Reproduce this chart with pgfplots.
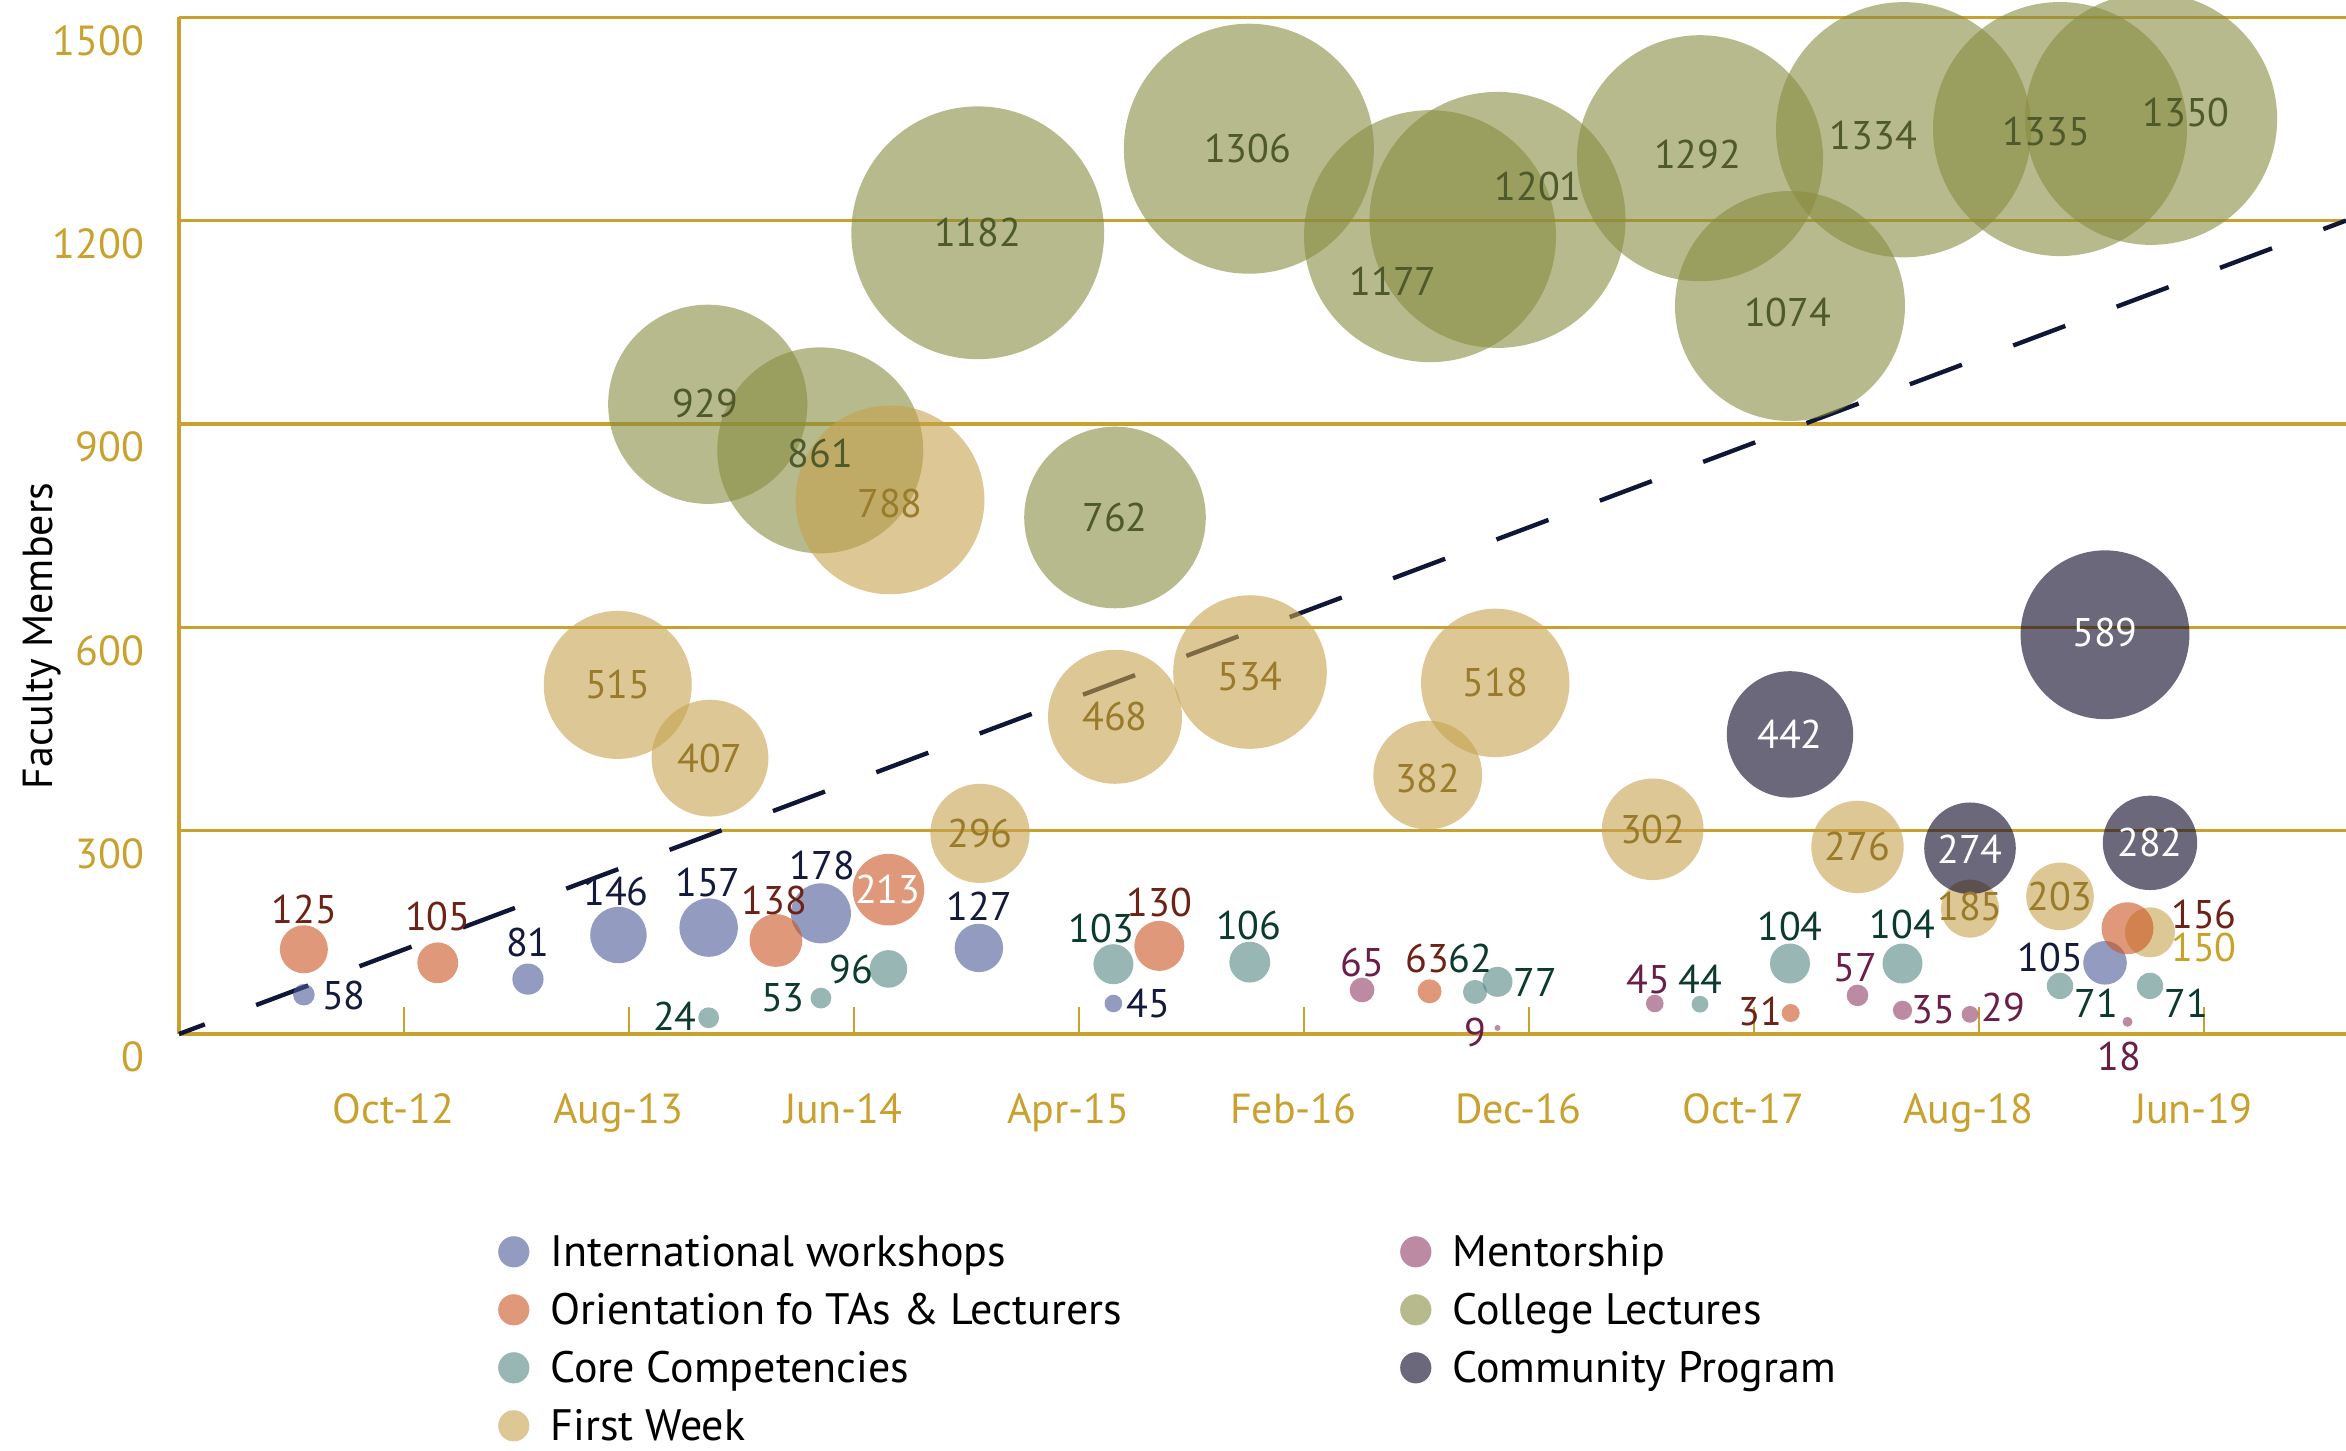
\documentclass[border=0pt]{standalone}
\usepackage{fontspec}
\setmainfont{PT Sans}
\usepackage{pgfplots}
\pgfplotsset{compat=1.18}
\definecolor{gold}{HTML}{C9A12E}
\definecolor{cIW}{HTML}{4B5A96}
\definecolor{cOR}{HTML}{CA5521}
\definecolor{cCC}{HTML}{528582}
\definecolor{cFW}{HTML}{C5A24E}
\definecolor{cME}{HTML}{8F3E66}
\definecolor{cCL}{HTML}{878C3F}
\definecolor{cCP}{HTML}{080323}
\definecolor{tIW}{HTML}{141A3C}
\definecolor{tOR}{HTML}{6E2216}
\definecolor{tCC}{HTML}{0C3A2F}
\definecolor{tFW}{HTML}{9A7B2C}
\definecolor{tFWb}{HTML}{C9A227}
\definecolor{tME}{HTML}{6A1E48}
\definecolor{tCL}{HTML}{4E5A2C}
\definecolor{trend}{HTML}{101636}
\newcommand\lblfont{\fontsize{10}{12}\selectfont}
\newcommand\tkfont{\fontsize{10.5}{12.6}\selectfont}
\newcommand\lgfont{\fontsize{11}{13.2}\selectfont}
\pgfplotsset{
  bubble/.style={scatter, only marks, mark=*, forget plot,
    scatter/use mapped color={draw=#1, draw opacity=0, fill=#1, fill opacity=0.6},
    visualization depends on={\thisrow{r} \as \bubr},
    scatter/@pre marker code/.append style={/tikz/mark size=\bubr pt}},
  lbl/.style={draw=none, mark=none, forget plot, nodes near coords,
    point meta=explicit symbolic, nodes near coords align={center},
    every node near coord/.append style={text=#1, font=\lblfont, inner sep=0pt}},
  leg/.style={legend image code/.code={\path[draw=none, draw opacity=0, fill=#1, fill opacity=0.6] (0pt,3.6pt) circle (3.9pt);}},
}
\begin{document}
\begin{tikzpicture}
\path[use as bounding box] (-44.75pt,-104pt) rectangle (541.75pt,258.5pt);
\begin{axis}[
  at={(0pt,0pt)}, anchor=south west,
  scale only axis, width=541.75pt, height=254.2pt,
  xmin=0, xmax=96.31, ymin=0, ymax=1500,
  clip=false,
  axis x line*=bottom, axis y line*=left,
  axis line style={draw=gold, line width=0.8pt, -},
  xtick={10,20,30,40,50,60,70,80,90},
  xticklabels={Oct-12,Aug-13,Jun-14,Apr-15,Feb-16,Dec-16,Oct-17,Aug-18,Jun-19},
  ytick={0,300,600,900,1200,1500},
  tick align=inside, major tick length=6.7pt,
  xtick style={draw=gold, line width=0.6pt},
  ytick style={draw=none},
  ymajorgrids, grid style={draw=gold, line width=0.8pt},
  /pgf/number format/assume math mode=true,
  /pgf/number format/1000 sep={},
  xticklabel style={anchor=base, inner sep=0pt, yshift=-22.3pt, xshift=-2.65pt, text=gold, font=\tkfont},
  yticklabel style={anchor=east, inner sep=0pt, xshift=-8.5pt, yshift=-5.8pt, text=gold, font=\tkfont},
  ylabel={Faculty Members},
  every axis y label/.style={at={(axis description cs:-0.0630,0.3914)}, rotate=90, anchor=center, font=\tkfont},
  legend columns=2,
  legend cell align=left,
  legend style={draw=none, fill=none, at={(axis description cs:0.14693,-0.19611)}, anchor=north west,
    font=\lgfont, inner sep=0pt, row sep=4pt, column sep=0pt,
    cells={anchor=base west},
    nodes={inner sep=0pt, text height=8pt, text depth=2.5pt},
    /tikz/every odd column/.append style={column sep=5.35pt}},
]
% College Lectures
\addplot[bubble=cCL] table {
x y r
23.5 929 24.9
28.5 861 25.75
35.5 1182 31.6
41.6 762 22.7
47.55 1306 31.25
55.6 1177 31.5
58.6 1201 32.0
67.6 1292 30.75
71.6 1074 28.75
76.65 1334 31.9
83.6 1335 31.75
87.65 1350 31.5
};
% First Week
\addplot[bubble=cFW] table {
x y r
19.5 515 18.5
23.6 407 14.6
31.6 788 23.6
35.6 296 12.4
41.6 468 16.75
47.6 534 19.2
55.5 382 13.6
58.5 518 18.55
65.5 302 12.7
74.6 276 11.55
79.6 185 7.25
83.6 203 8.45
87.6 150 6.25
};
% International workshops
\addplot[bubble=cIW] table {
x y r
5.55 58 2.7
15.51 81 3.9
19.53 146 7.05
23.54 157 7.3
28.53 178 7.5
35.55 127 6.05
41.53 45 2.2
85.6 105 5.45
};
% Orientation
\addplot[bubble=cOR] table {
x y r
5.55 125 6.0
11.5 105 5.1
26.53 138 6.6
31.53 213 8.95
43.57 130 6.25
55.58 63 3.0
71.63 31 2.25
86.6 156 6.5
};
% Core Competencies
\addplot[bubble=cCC] table {
x y r
23.54 24 2.6
28.53 53 2.6
31.53 96 4.7
41.53 103 5.0
47.59 106 5.1
57.6 62 3.0
58.6 77 3.75
67.6 44 2.1
71.6 104 5.0
76.6 104 5.0
83.6 71 3.3
87.6 71 3.3
};
% Mentorship
\addplot[bubble=cME] table {
x y r
52.58 65 3.1
58.6 9 0.75
65.59 45 2.2
74.6 57 2.7
76.6 35 2.4
79.6 29 2.1
86.6 18 1.25
};
% Community Program
\addplot[bubble=cCP] table {
x y r
71.6 442 15.8
85.6 589 21.1
79.6 274 11.45
87.6 282 11.8
};
% trend line
\addplot[draw=trend, line width=1.1pt, dash pattern=on 13.9pt off 13.7pt, dash phase=7pt, forget plot] coordinates {(0,0) (96.31,1200)};
% labels
\addplot[lbl=tCL] table[meta=t] {
x y t
23.4 929.5 929
28.5 857 861
35.5 1182 1182
41.6 762 762
47.5 1306 1306
53.96 1111 1177
60.4 1251 1201
67.5 1297 1292
71.5 1065 1074
75.3 1326 1334
83.0 1331 1335
89.2 1359 1350
};
\addplot[lbl=tFW] table[meta=t] {
x y t
19.5 515 515
23.6 407 407
31.6 783 788
35.6 296 296
41.6 468 468
47.6 527 534
55.5 377 382
58.5 518 518
65.5 302 302
74.6 276 276
79.6 188 185
83.6 203 203
};
\addplot[lbl=tFWb] table[meta=t] {
x y t
90.0 126.9 150
};
\addplot[lbl=tIW] table[meta=t] {
x y t
7.33 57.5 58
15.51 135.7 81
19.42 210 146
23.51 222.8 157
28.6 249.3 178
35.58 187.8 127
43.07 45.7 45
83.16 113.6 105
};
\addplot[lbl=tOR] table[meta=t] {
x y t
5.58 184.4 125
11.5 174 105
26.47 197.7 138
43.57 193.3 130
55.5 112 63
70.3 32.5 31
90.0 177 156
};
\addplot[lbl=white] table[meta=t] {
x y t
31.5 212.5 213
71.6 442 442
85.6 593 589
79.6 272 274
87.6 282 282
};
\addplot[lbl=tCC] table[meta=t] {
x y t
22.04 26.6 24
26.84 53.1 53
29.87 95.9 96
41.0 156.4 103
47.55 160.8 106
57.4 112 62
60.3 76.7 77
67.6 81.1 44
71.6 159.3 104
76.6 162.3 104
85.2 45.7 71
89.2 45.7 71
};
\addplot[lbl=tME] table[meta=t] {
x y t
52.58 106.2 65
57.6 1.9 9
65.3 81.1 45
74.5 97.4 57
77.96 35.4 35
81.1 38.4 29
86.25 -33.9 18
};
% legend
\addlegendimage{leg=cIW}
\addlegendentry{\makebox[212.35pt][l]{International workshops}}
\addlegendimage{leg=cME}
\addlegendentry{Mentorship}
\addlegendimage{leg=cOR}
\addlegendentry{\makebox[212.35pt][l]{Orientation fo TAs \& Lecturers}}
\addlegendimage{leg=cCL}
\addlegendentry{College Lectures}
\addlegendimage{leg=cCC}
\addlegendentry{\makebox[212.35pt][l]{Core Competencies}}
\addlegendimage{leg=cCP}
\addlegendentry{Community Program}
\addlegendimage{leg=cFW}
\addlegendentry{\makebox[212.35pt][l]{First Week}}
\end{axis}
\end{tikzpicture}
\end{document}
